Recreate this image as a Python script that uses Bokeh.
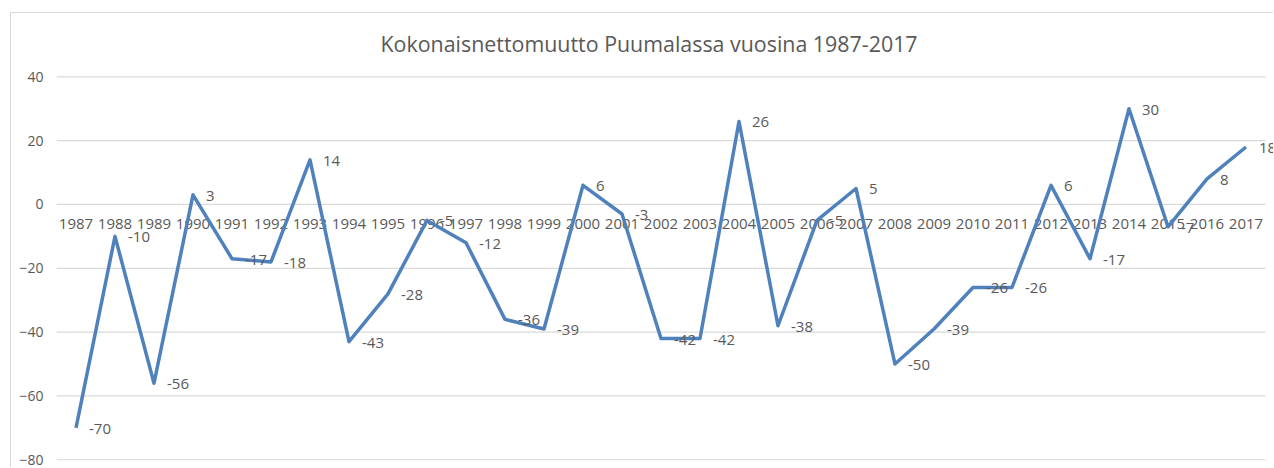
from bokeh.plotting import figure
from bokeh.models import ColumnDataSource, Range1d, FixedTicker
from bokeh.core.properties import value
from bokeh.embed import file_html
from bokeh.resources import INLINE

title_text = "Kokonaisnettomuutto Puumalassa vuosina 1987-2017"
years = list(range(1987, 2018))
values = [-70, -10, -56, 3, -17, -18, 14, -43, -28, -5, -12, -36, -39, 6, -3,
          -42, -42, 26, -38, -5, 5, -50, -39, -26, -26, 6, -17, 30, -7, 8, 18]
y_ticks = [-80, -60, -40, -20, 0, 20, 40]

FONT = "Open Sans"
TXT = "#595959"
LINE = "#4f81bd"
GRID = "#d9d9d9"

src = ColumnDataSource(dict(
    x=years, y=values,
    lab=[str(v) for v in values],
    yl=[str(y) for y in years],
    zero=[0] * len(years),
))

# category band edges: half a step before the first and after the last year
x_lo = years[0] - 0.5
x_hi = years[-1] + 0.5

p = figure(width=1263, height=455, output_backend="svg", toolbar_location=None,
           x_range=Range1d(x_lo, x_hi + 9 / 39.0), y_range=Range1d(-80.22, 41.97),
           min_border_left=45, min_border_right=0, min_border_top=57,
           min_border_bottom=8)
p.styles = {"margin-left": "10px", "margin-top": "12px",
            "border-left": "1px solid #d9d9d9", "border-top": "1px solid #d9d9d9"}

p.title.text = title_text
p.title.align = "left"
p.title.offset = 324
p.title.text_font = FONT
p.title.text_font_size = "21.4px"
p.title.text_font_style = "normal"
p.title.text_color = TXT
p.title.text_line_height = 0.8
p.title.standoff = 25

p.outline_line_color = None
p.background_fill_color = "white"
p.border_fill_color = "white"

p.xaxis.visible = False
p.xgrid.visible = False
p.ygrid.visible = False
p.yaxis.ticker = FixedTicker(ticks=y_ticks)
p.yaxis.axis_line_color = None
p.yaxis.major_tick_line_color = None
p.yaxis.minor_tick_line_color = None
p.yaxis.major_tick_out = 0
p.yaxis.major_tick_in = 0
p.yaxis.major_label_text_font = FONT
p.yaxis.major_label_text_font_size = "14px"
p.yaxis.major_label_text_color = TXT
p.yaxis.major_label_standoff = 13

# horizontal gridlines spanning only the category bands
p.segment(x0=[x_lo] * len(y_ticks), y0=y_ticks, x1=[x_hi] * len(y_ticks),
          y1=y_ticks, line_color=GRID, line_width=1.2)

# year labels along the zero line
p.text(x="x", y="zero", text="yl", source=src, text_font=value(FONT),
       text_font_size="15px", text_color=TXT, text_align="center",
       text_baseline="middle", y_offset=20)

p.line(x="x", y="y", source=src, line_color=LINE, line_width=3.5,
       line_join="round")

# data labels
p.text(x="x", y="y", text="lab", source=src, text_font=value(FONT),
       text_font_size="15px", text_color=TXT, text_align="left",
       text_baseline="middle", x_offset=13, y_offset=1)

open("out.html", "w").write(file_html(p, INLINE))
